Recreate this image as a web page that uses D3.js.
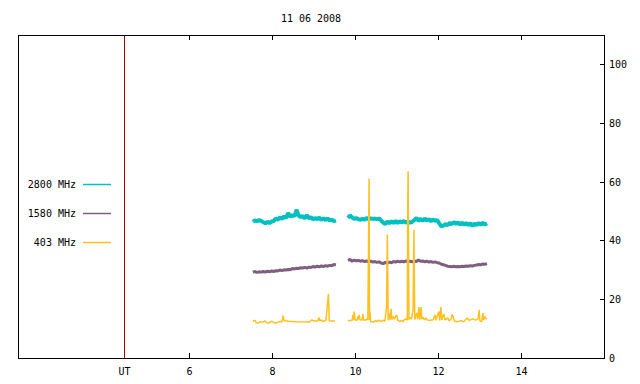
<!DOCTYPE html>
<html>
<head>
<meta charset="utf-8">
<script src="https://cdn.jsdelivr.net/npm/d3@7"></script>
<style>
  body { margin: 0; background: #fff; }
  text { font-family: "DejaVu Sans Mono", monospace; font-size: 10px; fill: #000; }
</style>
</head>
<body>
<svg id="chart" width="640" height="384"></svg>
<script>
// ---- data ----
const title = "11 06 2008"
const xTicks = [6, 8, 10, 12, 14]
const yTicks = [0, 20, 40, 60, 80, 100]
const utHour = 4.43
const legendLabels = ["2800 MHz", "1580 MHz", "403 MHz"]
const colors = ["#00c0c0", "#7f5f7f", "#ffc020"]

// 2800 and 1580 MHz: evenly sampled, 0.05 h apart
const seg1Start = 7.54
const seg2Start = 9.83
const sampleStep = 0.05

const flux2800a = [46.3, 46.8, 46.5, 46.9, 46.6, 46.2, 45.8, 46.3, 45.9, 46.4, 46.6, 47.4, 47.0, 47.8,
  47.3, 48.2, 47.6, 49.3, 48.0, 48.6, 48.2, 50.4, 48.5, 47.9, 48.3, 47.4, 48.6, 47.5, 47.9, 47.1, 47.6,
  47.2, 47.7, 47.0, 47.5, 46.9, 47.4, 46.8, 47.1, 46.5, 46.8]
const flux2800b = [47.6, 48.5, 47.8, 47.3, 47.6, 47.2, 47.0, 47.3, 47.0, 47.6, 47.2, 47.5, 47.3, 47.4,
  47.2, 47.4, 46.8, 46.0, 45.6, 46.4, 45.8, 46.5, 45.9, 46.6, 45.9, 46.5, 46.1, 46.6, 46.0, 46.4, 46.0,
  46.3, 46.9, 47.6, 46.7, 47.3, 46.6, 47.4, 46.8, 47.2, 46.5, 47.1, 46.6, 46.9, 45.8, 44.8, 45.0, 45.5,
  45.2, 45.9, 45.5, 46.2, 45.6, 46.1, 45.4, 46.0, 45.3, 45.9, 45.2, 45.8, 44.9, 45.7, 45.2, 45.9, 45.3,
  46.0, 45.4, 45.8]

const flux1580a = [29.2, 29.4, 29.1, 29.3, 29.2, 29.4, 29.2, 29.5, 29.3, 29.6, 29.4, 29.7, 29.6, 29.9,
  29.7, 30.0, 29.9, 30.1, 30.0, 30.4, 30.3, 30.5, 30.4, 30.7, 30.6, 30.8, 30.6, 30.9, 30.8, 31.1, 30.9,
  31.2, 31.0, 31.3, 31.1, 31.4, 31.2, 31.5, 31.4, 31.8, 31.6]
const flux1580b = [33.2, 33.5, 32.9, 33.3, 33.0, 33.2, 32.9, 33.1, 32.8, 33.0, 32.7, 32.9, 32.6, 32.8,
  32.5, 32.7, 32.3, 32.1, 32.5, 32.2, 32.6, 32.4, 32.8, 32.6, 32.9, 32.7, 32.9, 32.7, 33.0, 32.8, 32.9,
  32.7, 33.0, 32.8, 33.3, 32.9, 33.0, 32.7, 32.9, 32.6, 32.8, 32.5, 32.7, 32.4, 32.3, 31.9, 31.7, 31.5,
  31.2, 31.1, 31.0, 31.2, 31.0, 31.1, 31.0, 31.2, 31.1, 31.3, 31.2, 31.4, 31.3, 31.5, 31.6, 31.8, 31.7,
  32.0, 31.9, 32.1]

// 403 MHz: [hour, flux] pairs (burst spikes)
const flux403a = [[7.54, 12.3], [7.57, 12.8], [7.60, 12.7], [7.62, 12.0], [7.67, 11.9], [7.70, 12.2],
  [7.80, 12.2], [7.83, 12.7], [7.85, 12.2], [7.90, 12.0], [7.93, 11.9], [7.95, 12.2], [8.00, 12.5],
  [8.03, 12.2], [8.10, 11.8], [8.13, 12.2], [8.20, 12.4], [8.23, 12.2], [8.25, 12.9], [8.27, 14.4],
  [8.29, 12.7], [8.40, 12.5], [8.60, 12.3], [8.90, 12.2], [8.96, 13.0], [9.00, 12.6], [9.10, 12.6],
  [9.13, 13.8], [9.15, 12.6], [9.19, 13.0], [9.22, 12.4], [9.30, 12.8], [9.34, 18.8], [9.36, 21.8],
  [9.38, 12.6], [9.52, 12.6]]
const flux403b = [[9.83, 12.7], [9.93, 12.8], [9.95, 14.7], [9.97, 12.9], [9.98, 15.8], [10.00, 13.0],
  [10.05, 12.8], [10.07, 14.1], [10.09, 13.2], [10.10, 14.7], [10.12, 13.0], [10.17, 12.9], [10.19, 15.0],
  [10.21, 12.8], [10.27, 13.0], [10.29, 13.3], [10.31, 12.9], [10.34, 61.0], [10.35, 12.9], [10.36, 15.8],
  [10.38, 12.3], [10.45, 12.2], [10.50, 12.8], [10.53, 12.4], [10.58, 12.9], [10.62, 12.4], [10.67, 12.9],
  [10.72, 12.5], [10.76, 17.2], [10.78, 42.0], [10.80, 12.8], [10.83, 15.3], [10.85, 13.0], [10.87, 16.7],
  [10.89, 13.1], [10.92, 14.1], [10.95, 13.2], [10.99, 14.5], [11.01, 14.4], [11.03, 12.9], [11.08, 12.4],
  [11.12, 12.9], [11.15, 12.3], [11.19, 13.0], [11.22, 13.3], [11.26, 12.9], [11.27, 50.0], [11.28, 63.5],
  [11.30, 13.0], [11.33, 13.8], [11.36, 13.2], [11.40, 16.4], [11.42, 43.5], [11.44, 13.1], [11.49, 15.3],
  [11.51, 13.2], [11.54, 17.3], [11.56, 13.0], [11.59, 17.3], [11.61, 13.2], [11.64, 13.9], [11.67, 13.0],
  [11.71, 13.6], [11.74, 12.9], [11.81, 12.8], [11.88, 13.0], [11.93, 14.7], [11.95, 12.8], [12.02, 15.8],
  [12.04, 12.8], [12.07, 17.3], [12.09, 12.9], [12.14, 15.0], [12.17, 13.0], [12.24, 13.6], [12.27, 12.6],
  [12.32, 13.4], [12.34, 14.9], [12.36, 14.1], [12.40, 12.5], [12.47, 12.3], [12.55, 12.8], [12.62, 12.3],
  [12.70, 13.6], [12.75, 12.8], [12.84, 13.3], [12.90, 12.9], [12.97, 13.4], [12.99, 16.4], [13.01, 12.6],
  [13.05, 12.4], [13.08, 15.3], [13.10, 12.9], [13.13, 14.1], [13.16, 13.4], [13.18, 13.2]]

// ---- layout ----
const plotLeft = 18, plotRight = 604, plotTop = 35, plotBottom = 358

const svg = d3.select("#chart")

const xScale = d3.scaleLinear().domain([1.88, 16]).range([plotLeft, plotRight])
const yScale = d3.scaleLinear().domain([0, 110]).range([plotBottom, plotTop - 0.5])

const toPoints = (start, vals) => vals.map((v, i) => [start + i * sampleStep, v])

const series = [
  { color: colors[0], width: 4, segs: [toPoints(seg1Start, flux2800a), toPoints(seg2Start, flux2800b)] },
  { color: colors[1], width: 3, segs: [toPoints(seg1Start, flux1580a), toPoints(seg2Start, flux1580b)] },
  { color: colors[2], width: 1.5, segs: [flux403a, flux403b] }
]

const line = d3.line()
  .x(d => xScale(d[0]))
  .y(d => yScale(d[1]))

// UT marker
const utX = Math.round(xScale(utHour)) + 0.5
svg.append("line")
  .attr("x1", utX).attr("x2", utX)
  .attr("y1", plotTop).attr("y2", plotBottom)
  .attr("stroke", "#a00000")

// data lines
series.forEach(s => {
  svg.selectAll(null)
    .data(s.segs)
    .join("path")
    .attr("d", line)
    .attr("fill", "none")
    .attr("stroke", s.color)
    .attr("stroke-width", s.width)
    .attr("stroke-linejoin", "bevel")
})

// border
svg.append("rect")
  .attr("x", plotLeft + 0.5).attr("y", plotTop + 0.5)
  .attr("width", plotRight - plotLeft).attr("height", plotBottom - plotTop)
  .attr("fill", "none").attr("stroke", "#000")

// x ticks (bottom and top, inward)
const xt = svg.append("g").attr("shape-rendering", "crispEdges")
xTicks.forEach(t => {
  const x = Math.round(xScale(t)) + 0.5
  xt.append("line").attr("x1", x).attr("x2", x).attr("y1", plotBottom).attr("y2", plotBottom - 5).attr("stroke", "#000")
  xt.append("line").attr("x1", x).attr("x2", x).attr("y1", plotTop).attr("y2", plotTop + 5).attr("stroke", "#000")
  xt.append("text").attr("x", x).attr("y", 375).attr("text-anchor", "middle").text(t)
})
xt.append("text").attr("x", utX).attr("y", 375).attr("text-anchor", "middle").text("UT")

// y ticks on the right
const yt = svg.append("g").attr("shape-rendering", "crispEdges")
yTicks.forEach(t => {
  const y = Math.round(yScale(t)) + 0.5
  if (t > 0) yt.append("line").attr("x1", plotRight - 4).attr("x2", plotRight).attr("y1", y).attr("y2", y).attr("stroke", "#000")
  yt.append("text").attr("x", plotRight + 5).attr("y", y + 3.5).text(t)
})

// title
svg.append("text")
  .attr("x", (plotLeft + plotRight) / 2).attr("y", 22)
  .attr("text-anchor", "middle")
  .text(title)

// legend
legendLabels.forEach((lab, i) => {
  const y = 184.5 + i * 29
  svg.append("text").attr("x", 76).attr("y", y + 3.5).attr("text-anchor", "end").text(lab)
  svg.append("line").attr("x1", 83).attr("x2", 111).attr("y1", y).attr("y2", y)
    .attr("stroke", colors[i]).attr("stroke-width", 1.5)
})
</script>
</body>
</html>
